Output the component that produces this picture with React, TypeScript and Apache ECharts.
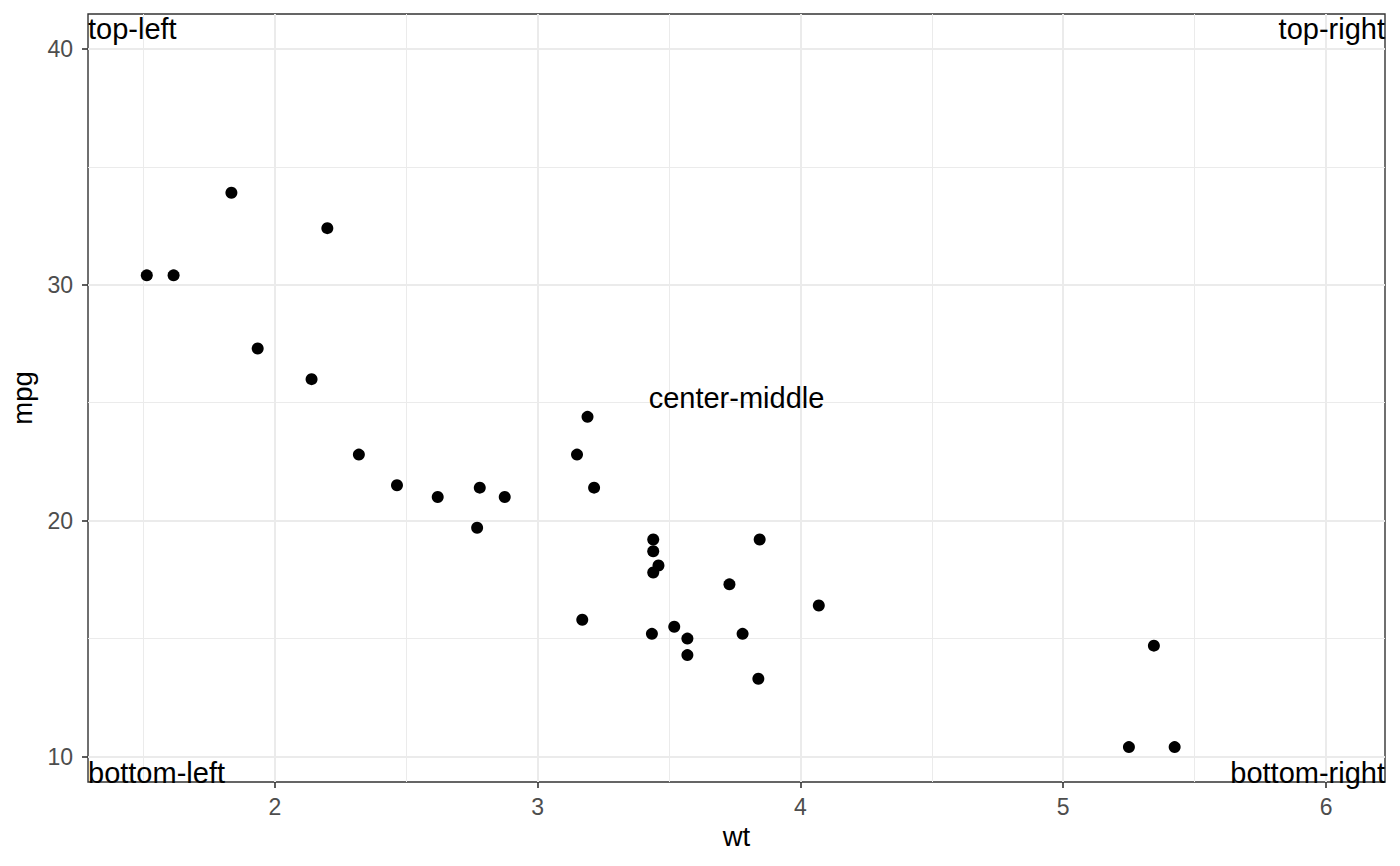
import React, { useEffect, useRef } from "react";
import * as echarts from "echarts";

const WT = [2.62, 2.875, 2.32, 3.215, 3.44, 3.46, 3.57, 3.19, 3.15, 3.44, 3.44, 4.07, 3.73, 3.78, 5.25, 5.424, 5.345, 2.2, 1.615, 1.835, 2.465, 3.52, 3.435, 3.84, 3.845, 1.935, 2.14, 1.513, 3.17, 2.77, 3.57, 2.78];
const MPG = [21.0, 21.0, 22.8, 21.4, 18.7, 18.1, 14.3, 24.4, 22.8, 19.2, 17.8, 16.4, 17.3, 15.2, 10.4, 10.4, 14.7, 32.4, 30.4, 33.9, 21.5, 15.5, 15.2, 13.3, 19.2, 27.3, 26.0, 30.4, 15.8, 19.7, 15.0, 21.4];
const X_TICKS = [2, 3, 4, 5, 6];
const X_MINOR = [1.5, 2.5, 3.5, 4.5, 5.5];
const Y_TICKS = [10, 20, 30, 40];
const Y_MINOR = [15, 25, 35];
const X_RANGE = [1.28935, 6.22435];
const Y_RANGE = [8.92, 41.48];
const LABELS = ["top-left", "top-right", "bottom-left", "bottom-right", "center-middle"];

const G = { left: 88, right: 15, top: 14, bottom: 84 };
const W = 1400;
const H = 866;
const FONT = "'Liberation Sans', Arial, Helvetica, sans-serif";

export default function App() {
  const ref = useRef<HTMLDivElement>(null);
  useEffect(() => {
    if (!ref.current) return;
    const chart = echarts.init(ref.current, undefined, { renderer: "svg" });
    const pl = G.left, pr = W - G.right, pt = G.top, pb = H - G.bottom;
    const ann = 29;
    const txt = (i: number, x: number, y: number, align: string, va: string) => ({
      type: "text",
      x,
      y,
      z: 100,
      style: { text: LABELS[i], fill: "#000", font: `${ann}px ${FONT}`, align, verticalAlign: va },
    });
    const grid = [
      ...X_MINOR.map((v) => ({ xAxis: v, lineStyle: { color: "#EBEBEB", width: 1, type: "solid" } })),
      ...Y_MINOR.map((v) => ({ yAxis: v, lineStyle: { color: "#EBEBEB", width: 1, type: "solid" } })),
      ...X_TICKS.map((v) => ({ xAxis: v, lineStyle: { color: "#EBEBEB", width: 2, type: "solid" } })),
      ...Y_TICKS.map((v) => ({ yAxis: v, lineStyle: { color: "#EBEBEB", width: 2, type: "solid" } })),
    ];
    chart.setOption({
      animation: false,
      textStyle: { fontFamily: FONT },
      grid: {
        ...G,
        outerBoundsMode: "none",
        containLabel: false,
        show: true,
        borderColor: "#333333",
        borderWidth: 1.4,
        backgroundColor: "#fff",
        z: 0,
      },
      xAxis: {
        type: "value",
        min: X_RANGE[0],
        max: X_RANGE[1],
        name: "wt",
        nameLocation: "middle",
        nameGap: 40,
        nameTextStyle: { color: "#000", fontSize: 27.5, fontFamily: FONT },
        axisLine: { show: false },
        splitLine: { show: false },
        axisTick: { show: true, customValues: X_TICKS, length: 6, lineStyle: { color: "#333333", width: 1.6 } },
        axisLabel: { customValues: X_TICKS, color: "#4D4D4D", fontSize: 23, margin: 13, fontFamily: FONT },
      },
      yAxis: {
        type: "value",
        min: Y_RANGE[0],
        max: Y_RANGE[1],
        name: "mpg",
        nameLocation: "middle",
        nameGap: 46,
        nameTextStyle: { color: "#000", fontSize: 27.5, fontFamily: FONT },
        axisLine: { show: false },
        splitLine: { show: false },
        axisTick: { show: true, customValues: Y_TICKS, length: 6, lineStyle: { color: "#333333", width: 1.6 } },
        axisLabel: { customValues: Y_TICKS, color: "#4D4D4D", fontSize: 23, margin: 15, fontFamily: FONT },
      },
      series: [
        {
          type: "scatter",
          data: [],
          z: 1,
          silent: true,
          markLine: { silent: true, symbol: ["none", "none"], label: { show: false }, animation: false, data: grid },
        },
        {
          type: "scatter",
          z: 5,
          symbol: "circle",
          symbolSize: 12,
          itemStyle: { color: "#000", opacity: 1 },
          data: WT.map((w, i) => [w, MPG[i]]),
        },
      ],
      graphic: [
        txt(0, pl, pt, "left", "top"),
        txt(1, pr, pt, "right", "top"),
        txt(2, pl, pb + 5, "left", "bottom"),
        txt(3, pr, pb + 5, "right", "bottom"),
        txt(4, (pl + pr) / 2, (pt + pb) / 2, "center", "middle"),
      ],
    });
    return () => chart.dispose();
  }, []);
  return <div ref={ref} style={{ width: W, height: H, position: "absolute", left: 0, top: 0 }} />;
}
